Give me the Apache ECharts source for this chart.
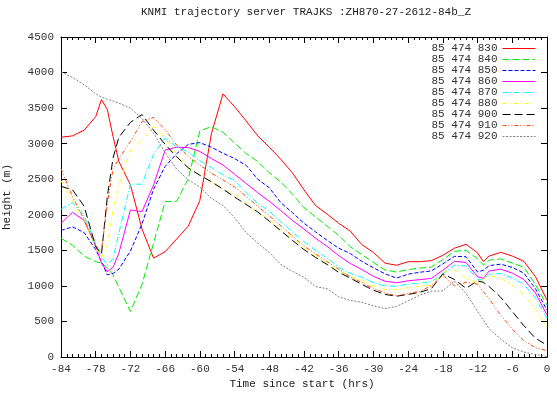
<!DOCTYPE html>
<html><head><meta charset="utf-8">
<script src="https://cdn.jsdelivr.net/npm/echarts@6/dist/echarts.min.js"></script>
<style>html,body{margin:0;padding:0;background:#fff}#c{width:557px;height:393px}</style>
</head><body><div id="c"></div>
<script>
const titleText = 'KNMI trajectory server TRAJKS :ZH870-27-2612-84b_Z';
const xTitle = 'Time since start (hrs)';
const yTitle = 'height (m)';
const times = [-84,-82,-80,-78,-77,-76,-75,-74,-72,-70,-68,-66,-64,-62,-60,-58,-56,-54,-52,-50,-48,-46,-44,-42,-40,-38,-36,-34,-32,-30,-28,-26,-24,-22,-20,-18,-16,-14,-12,-11,-10,-8,-6,-4,-2,0];
const names = ['85 474 830','85 474 840','85 474 850','85 474 860','85 474 870','85 474 880','85 474 900','85 474 910','85 474 920'];
const h830 = [3090,3110,3190,3380,3620,3480,3100,2750,2420,1800,1390,1480,1660,1840,2200,3140,3700,3520,3320,3110,2950,2780,2590,2350,2130,2010,1880,1770,1580,1470,1320,1290,1340,1340,1355,1430,1530,1585,1465,1340,1420,1472,1420,1345,1130,800];
const h840 = [1670,1570,1420,1340,1320,1255,1155,980,640,1020,1600,2184,2190,2510,3180,3240,3160,3010,2860,2750,2590,2460,2290,2100,1970,1840,1710,1550,1440,1330,1223,1195,1230,1250,1265,1370,1485,1500,1380,1294,1360,1380,1320,1262,1020,730];
const h850 = [1780,1830,1750,1510,1340,1155,1175,1235,1490,1870,2360,2680,2860,2990,3015,2950,2865,2790,2695,2500,2380,2170,2030,1880,1760,1640,1530,1455,1345,1255,1170,1110,1165,1192,1210,1310,1415,1410,1195,1220,1285,1305,1260,1180,960,660];
const h860 = [1880,2035,1920,1560,1320,1200,1260,1460,2067,2044,2420,2910,2950,2945,2890,2790,2700,2570,2440,2310,2190,2060,1920,1800,1670,1555,1425,1315,1230,1135,1065,1045,1072,1088,1105,1220,1345,1330,1128,1106,1210,1235,1180,1090,900,590];
const h870 = [2080,2170,1985,1590,1415,1295,1380,1740,2430,2430,2850,3080,2955,2880,2760,2665,2560,2480,2310,2160,2050,1900,1760,1620,1500,1390,1260,1175,1120,1045,1000,995,1025,1040,1058,1170,1290,1280,1090,1083,1165,1175,1110,1020,830,545];
const h880 = [2480,2200,1930,1540,1390,1570,2060,2420,2900,3040,3240,3080,2850,2670,2560,2455,2350,2290,2160,2040,1930,1800,1670,1540,1425,1320,1210,1130,1070,1000,950,950,975,995,1012,1190,1225,1110,1040,1090,1140,1110,1010,880,670,420];
const h900 = [2400,2350,2120,1550,1450,2250,2800,3090,3300,3410,3190,2990,2815,2660,2555,2465,2360,2250,2145,2040,1910,1775,1640,1510,1400,1300,1190,1110,1020,940,880,855,880,910,960,1170,1090,966,1070,1050,990,840,640,440,265,165];
const h910 = [2650,2250,1940,1560,1500,2150,2650,2790,3030,3310,3370,3195,2980,2820,2700,2585,2490,2390,2260,2120,1985,1845,1700,1560,1450,1340,1235,1125,1045,965,900,860,890,925,1000,1150,1000,1050,1025,918,815,590,390,230,130,89];
const h920 = [4010,3930,3830,3700,3655,3625,3600,3570,3500,3355,3150,2870,2640,2490,2390,2231,2130,1960,1750,1600,1470,1300,1205,1120,990,960,845,795,770,720,680,710,790,870,925,930,1070,895,640,520,395,250,130,70,35,5];

const seriesValues = [h830,h840,h850,h860,h870,h880,h900,h910,h920];
const colors = ['#ff0000','#00ee00','#0000ff','#ff00ff','#00ffff','#ffff00','#000000','#ff4500','#808080'];
const dashes = ['solid',[7,3],[4,2],'solid',[6,2,1,2],[4,3,1,3],[8,4],[4,2,1,2,1,2],[2,1.5]];

const FONT = '"Liberation Mono", "DejaVu Sans Mono", monospace';
const chart = echarts.init(document.getElementById('c'), null, {renderer:'canvas'});

const series = seriesValues.map((vals, i) => ({
  name: names[i],
  type: 'line',
  symbol: 'none',
  animation: false,
  xAxisIndex: 0, yAxisIndex: 0,
  lineStyle: {color: colors[i], width: 1, type: dashes[i]},
  itemStyle: {color: colors[i]},
  data: times.map((t, k) => [t, vals[k]])
}));

const axisCommon = {
  axisLine: {show: true, onZero: false, lineStyle: {color: '#000', width: 1}},
  splitLine: {show: false}
};

chart.setOption({
  animation: false,
  backgroundColor: '#fff',
  grid: {left: 61, right: 10, top: 37, bottom: 36, containLabel: false},
  graphic: [
    {type: 'text', x: 306, y: 7, style: {text: titleText, font: '11px ' + FONT, fill: '#222', textAlign: 'center'}},
    {type: 'text', x: 302, y: 379, style: {text: xTitle, font: '11px ' + FONT, fill: '#222', textAlign: 'center'}},
    {type: 'text', x: 7, y: 197, rotation: Math.PI / 2, style: {text: yTitle, font: '11px ' + FONT, fill: '#222', textAlign: 'center', textVerticalAlign: 'middle'}}
  ],
  legend: {
    orient: 'vertical', right: 16, top: 38, align: 'right',
    itemWidth: 33, itemHeight: 9, itemGap: 0,
    itemStyle: {opacity: 0},
    lineStyle: {width: 1},
    textStyle: {fontFamily: FONT, fontSize: 11, color: '#333', lineHeight: 11},
    data: names
  },
  xAxis: [
    Object.assign({type: 'value', min: -84, max: 0, interval: 6, position: 'bottom',
      axisTick: {show: true, inside: true, length: 6, lineStyle: {color: '#000'}},
      minorTick: {show: true, splitNumber: 6, length: 3, lineStyle: {color: '#000'}},
      axisLabel: {show: true, margin: 7, fontFamily: FONT, fontSize: 11, color: '#333', formatter: v => String(v)}}, axisCommon),
    Object.assign({type: 'value', min: -84, max: 0, interval: 6, position: 'top',
      axisTick: {show: true, inside: true, length: 6, lineStyle: {color: '#000'}},
      minorTick: {show: true, splitNumber: 6, length: 3, lineStyle: {color: '#000'}},
      axisLabel: {show: false}}, axisCommon)
  ],
  yAxis: [
    Object.assign({type: 'value', min: 0, max: 4500, interval: 500, position: 'left',
      axisTick: {show: true, inside: true, length: 6, lineStyle: {color: '#000'}},
      axisLabel: {show: true, margin: 7, fontFamily: FONT, fontSize: 11, color: '#333', formatter: v => String(v)}}, axisCommon),
    Object.assign({type: 'value', min: 0, max: 4500, interval: 500, position: 'right',
      axisTick: {show: true, inside: true, length: 6, lineStyle: {color: '#000'}},
      axisLabel: {show: false}}, axisCommon)
  ],
  series: series
});
</script></body></html>
